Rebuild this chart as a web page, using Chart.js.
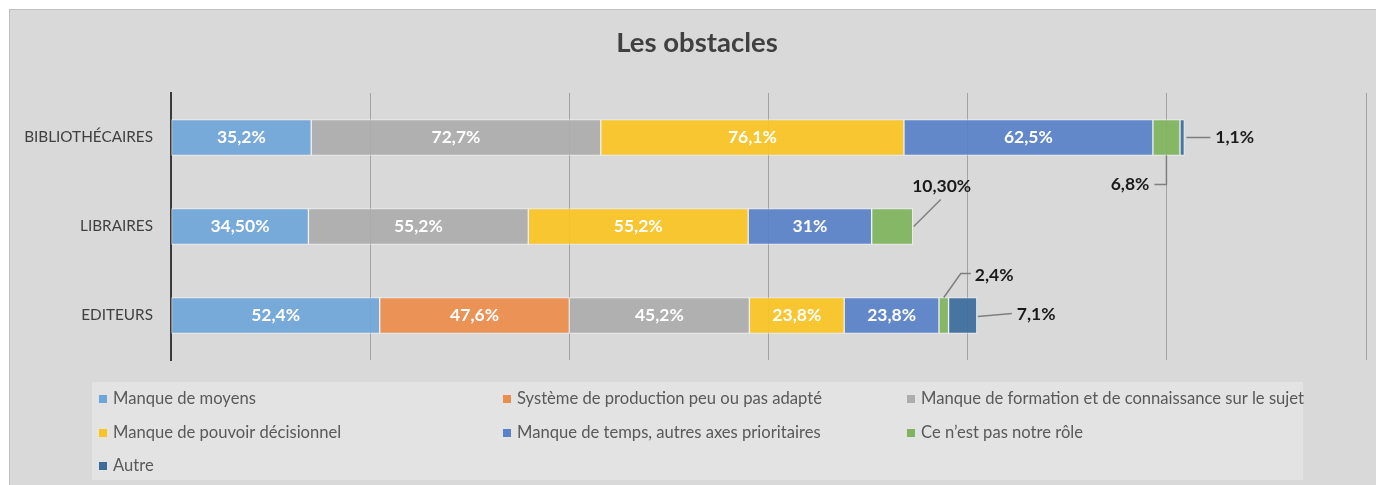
<!DOCTYPE html>
<html>
<head>
<meta charset="utf-8">
<script src="https://cdn.jsdelivr.net/npm/chart.js@4.4.0/dist/chart.umd.min.js"></script>
<style>
  body { margin: 0; background: #ffffff; overflow: hidden; }
  #box {
    position: absolute; left: 9px; top: 9px; width: 1374px; height: 475px;
    background: #d9d9d9; border-left: 1px solid #bfbfbf; border-top: 1px solid #bfbfbf;
  }
</style>
</head>
<body>
<div id="box"><canvas id="obstaclesChart" width="1374" height="475"></canvas></div>
<script>
// Catégories et séries
const chartTitle = 'Les obstacles';
const categories = ['BIBLIOTHÉCAIRES', 'LIBRAIRES', 'EDITEURS'];
const seriesNames = [
  'Manque de moyens',
  'Système de production peu ou pas adapté',
  'Manque de formation et de connaissance sur le sujet',
  'Manque de pouvoir décisionnel',
  'Manque de temps, autres axes prioritaires',
  'Ce n’est pas notre rôle',
  'Autre'
];

const manqueMoyens      = [35.2, 34.5, 52.4];
const systemeProduction = [null, null, 47.6];
const manqueFormation   = [72.7, 55.2, 45.2];
const manquePouvoir     = [76.1, 55.2, 23.8];
const manqueTemps       = [62.5, 31, 23.8];
const pasNotreRole      = [6.8, 10.3, 2.4];
const autre             = [1.1, null, 7.1];

// Textes des étiquettes, tels qu'affichés
const moyensTexts     = ['35,2%', '34,50%', '52,4%'];
const productionTexts = ['', '', '47,6%'];
const formationTexts  = ['72,7%', '55,2%', '45,2%'];
const pouvoirTexts    = ['76,1%', '55,2%', '23,8%'];
const tempsTexts      = ['62,5%', '31%', '23,8%'];
const roleTexts       = ['6,8%', '10,30%', '2,4%'];
const autreTexts      = ['1,1%', '', '7,1%'];

const seriesValues = [manqueMoyens, systemeProduction, manqueFormation, manquePouvoir, manqueTemps, pasNotreRole, autre];
const seriesTexts = [moyensTexts, productionTexts, formationTexts, pouvoirTexts, tempsTexts, roleTexts, autreTexts];
const colors = ['#6fa5d8', '#ec8c4d', '#adadad', '#fac423', '#5a82c8', '#80b45d', '#3c6c9c'];

const FONT = 'Lato, "Open Sans", sans-serif';
Chart.defaults.font.family = FONT;

// Étiquettes déportées (petits segments) : trait de rappel + texte
const callouts = {
  '5-0': b => ({ pts: [[b.mid, b.bottom], [b.mid, b.bottom + 29], [b.mid - 12, b.bottom + 29]], tx: b.mid - 17, ty: b.bottom + 29, align: 'right' }),
  '6-0': b => ({ pts: [[b.right + 2, b.y], [b.right + 26, b.y]], tx: b.right + 31, ty: b.y, align: 'left' }),
  '5-1': b => ({ pts: [[b.right + 1, b.y], [b.right + 28, b.y - 27]], tx: b.right + 29, ty: b.y - 40, align: 'center' }),
  '5-2': b => ({ pts: [[b.mid, b.top], [b.mid + 17, b.top - 24], [b.mid + 27, b.top - 24]], tx: b.mid + 31, ty: b.top - 22, align: 'left' }),
  '6-2': b => ({ pts: [[b.right + 1, b.y + 1], [b.right + 35, b.y - 2]], tx: b.right + 40, ty: b.y - 1, align: 'left' })
};

const segmentLabels = {
  id: 'segmentLabels',
  afterDatasetsDraw(chart) {
    const ctx = chart.ctx;
    chart.data.datasets.forEach((ds, di) => {
      chart.getDatasetMeta(di).data.forEach((bar, ci) => {
        if (ds.data[ci] == null) return;
        const p = bar.getProps(['x', 'y', 'base', 'height'], true);
        const b = { left: p.base, right: p.x, mid: (p.base + p.x) / 2, y: p.y, top: p.y - p.height / 2, bottom: p.y + p.height / 2 };
        const text = seriesTexts[di][ci];
        ctx.save();
        ctx.font = 'bold 17.5px ' + FONT;
        ctx.textBaseline = 'middle';
        const c = callouts[di + '-' + ci];
        if (!c) {
          ctx.fillStyle = '#ffffff';
          ctx.textAlign = 'center';
          ctx.fillText(text, b.mid, b.y);
        } else {
          const o = c(b);
          ctx.strokeStyle = '#7f7f7f';
          ctx.lineWidth = 1.5;
          ctx.beginPath();
          o.pts.forEach((pt, k) => k ? ctx.lineTo(pt[0], pt[1]) : ctx.moveTo(pt[0], pt[1]));
          ctx.stroke();
          ctx.fillStyle = '#1a1a1a';
          ctx.textAlign = o.align;
          ctx.fillText(text, o.tx, o.ty);
        }
        ctx.restore();
      });
    });
  }
};

// Titre centré sur le cadre (et non sur la zone de tracé)
const boxTitle = {
  id: 'boxTitle',
  afterDraw(chart) {
    const ctx = chart.ctx;
    ctx.save();
    ctx.font = 'bold 27.5px ' + FONT;
    ctx.fillStyle = '#404040';
    ctx.textAlign = 'center';
    ctx.textBaseline = 'middle';
    ctx.fillText(chartTitle, 687, 33);
    ctx.restore();
  }
};

// Légende en 3 colonnes dans un cadre plus clair
const gridLegend = {
  id: 'gridLegend',
  afterDraw(chart) {
    const ctx = chart.ctx;
    ctx.save();
    ctx.fillStyle = '#e3e3e3';
    ctx.fillRect(82, 372, 1211, 98);
    ctx.font = '16.6px ' + FONT;
    ctx.textBaseline = 'middle';
    ctx.textAlign = 'left';
    const colX = [89, 493, 897];
    const rowY = [389, 423, 456];
    chart.data.datasets.forEach((ds, i) => {
      const x = colX[i % 3], y = rowY[Math.floor(i / 3)];
      ctx.fillStyle = colors[i];
      ctx.fillRect(x, y - 4, 8, 8);
      ctx.fillStyle = '#595959';
      ctx.fillText(ds.label, x + 14, y);
    });
    ctx.restore();
  }
};

const ctx = document.getElementById('obstaclesChart').getContext('2d');
const obstaclesChart = new Chart(ctx, {
  type: 'bar',
  data: {
    labels: categories,
    datasets: seriesNames.map((name, i) => ({
      label: name,
      data: seriesValues[i],
      backgroundColor: colors[i] + 'ee',
      borderColor: 'rgba(255,255,255,0.55)',
      borderWidth: 1,
      borderSkipped: false,
      barThickness: 36
    }))
  },
  options: {
    indexAxis: 'y',
    responsive: false,
    animation: false,
    layout: { padding: { left: 0, right: 18, top: 83, bottom: 125 } },
    scales: {
      x: {
        stacked: true,
        min: 0,
        max: 300,
        ticks: { display: false, stepSize: 50 },
        grid: { color: '#a3a3a3', lineWidth: 1, drawTicks: false },
        border: { display: false }
      },
      y: {
        stacked: true,
        ticks: { color: '#404040', font: { size: 15.3 }, padding: 10 },
        grid: { display: false },
        border: { display: true, color: '#3a3a3a', width: 2 },
        afterFit(scale) { scale.width = 161; }
      }
    },
    plugins: {
      title: { display: false },
      legend: { display: false },
      tooltip: { enabled: false }
    }
  },
  plugins: [segmentLabels, boxTitle, gridLegend]
});
</script>
</body>
</html>
